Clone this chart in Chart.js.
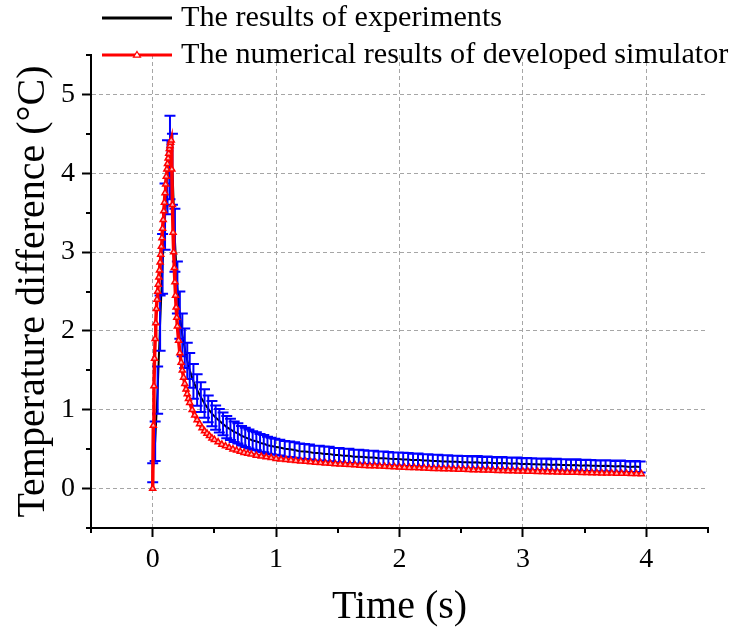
<!DOCTYPE html>
<html>
<head>
<meta charset="utf-8">
<script src="https://cdn.jsdelivr.net/npm/chart.js@4/dist/chart.umd.min.js"></script>
<style>
  html, body { margin: 0; padding: 0; background: #ffffff; }
  #wrap { width: 737px; height: 634px; }
</style>
</head>
<body>
<div id="wrap"><canvas id="c" width="737" height="634"></canvas></div>
<script>
// ---------------- DATA ----------------
const legendLabels = ["The results of experiments", "The numerical results of developed simulator"];
const xTitle = "Time (s)";
const yTitle = "Temperature difference (\u00B0C)";

// Experiments: time (s), temperature difference (°C), error half-width (°C)
const expT = [0,0.02,0.04,0.06,0.08,0.10,0.12,0.14,0.16,0.18,0.20,0.22,0.24,0.26,0.28,0.30,
  0.33,0.36,0.39,0.42,0.45,0.48,0.51,0.54,0.57,0.60,0.63,0.66,0.69,0.72,0.75,0.78,0.81,0.84,0.87,0.90,0.93,0.96,0.99,
  1.03,1.07,1.11,1.15,1.19,1.23,1.27,1.31,1.35,1.39,1.43,1.47,1.51,1.55,1.59,1.63,1.67,1.71,1.75,1.79,1.83,1.87,1.91,1.95,1.99,
  2.03,2.07,2.11,2.15,2.19,2.23,2.27,2.31,2.35,2.39,2.43,2.47,2.51,2.55,2.59,2.63,2.67,2.71,2.75,2.79,2.83,2.87,2.91,2.95,2.99,
  3.03,3.07,3.11,3.15,3.19,3.23,3.27,3.31,3.35,3.39,3.43,3.47,3.51,3.55,3.59,3.63,3.67,3.71,3.75,3.79,3.83,3.87,3.91,3.95];
const expY = [0.20,0.60,1.25,2.10,2.85,3.45,3.95,4.20,4.05,3.15,2.55,2.20,1.95,1.78,1.62,1.50,
  1.36,1.25,1.16,1.08,1.01,0.95,0.90,0.86,0.82,0.78,0.75,0.72,0.70,0.67,0.65,0.63,0.61,0.60,0.58,0.57,0.55,0.54,0.53,
  0.52,0.505,0.50,0.49,0.475,0.47,0.465,0.45,0.45,0.44,0.44,0.425,0.425,0.415,0.415,0.405,0.405,0.40,0.395,0.395,0.385,0.385,0.38,0.375,0.375,
  0.37,0.37,0.36,0.365,0.355,0.355,0.35,0.35,0.345,0.345,0.34,0.34,0.335,0.335,0.33,0.335,0.325,0.33,0.325,0.32,0.325,0.32,0.315,0.32,0.31,
  0.315,0.31,0.31,0.305,0.31,0.30,0.305,0.30,0.30,0.295,0.30,0.29,0.295,0.29,0.29,0.285,0.29,0.285,0.28,0.285,0.28,0.275,0.28,0.275];
const expE = [0.12,0.25,0.30,0.35,0.38,0.42,0.47,0.53,0.45,0.40,0.33,0.30,0.27,0.25,0.23,0.22,
  0.22,0.20,0.19,0.18,0.17,0.16,0.155,0.15,0.145,0.14,0.135,0.13,0.128,0.125,0.122,0.12,0.118,0.115,0.112,0.11,0.108,0.105,0.102,
  0.10,0.10,0.098,0.098,0.096,0.096,0.095,0.094,0.093,0.093,0.092,0.091,0.09,0.09,0.089,0.088,0.088,0.087,0.086,0.086,0.085,0.085,0.084,0.084,0.083,
  0.083,0.082,0.082,0.081,0.081,0.08,0.08,0.08,0.079,0.079,0.078,0.078,0.078,0.077,0.077,0.077,0.076,0.076,0.076,0.075,0.075,0.075,0.075,0.074,0.074,
  0.074,0.074,0.073,0.073,0.073,0.073,0.072,0.072,0.072,0.072,0.071,0.071,0.071,0.071,0.07,0.07,0.07,0.07,0.07,0.07,0.07,0.07,0.07,0.07];

// Simulator: time (s), temperature difference (°C)
const simT = [0,0.005,0.01,0.015,0.02,0.025,0.03,0.035,0.04,0.045,0.05,0.055,0.06,0.065,0.07,0.075,0.08,0.085,0.09,0.095,
  0.10,0.105,0.11,0.115,0.12,0.125,0.13,0.135,0.14,0.145,0.15,
  0.155,0.16,0.165,0.17,0.175,0.18,0.185,0.19,0.195,0.20,0.21,0.22,0.23,0.24,0.25,0.26,0.27,0.28,0.29,0.30,
  0.32,0.34,0.36,0.38,0.40,0.42,0.44,0.46,0.48,0.50,0.53,0.56,0.59,0.62,0.65,0.68,0.71,0.74,0.77,0.80,0.84,0.88,0.92,0.96,1.00,
  1.04,1.08,1.12,1.16,1.20,1.24,1.28,1.32,1.36,1.40,1.44,1.48,1.52,1.56,1.60,1.64,1.68,1.72,1.76,1.80,1.84,1.88,1.92,1.96,2.00,
  2.04,2.08,2.12,2.16,2.20,2.24,2.28,2.32,2.36,2.40,2.44,2.48,2.52,2.56,2.60,2.64,2.68,2.72,2.76,2.80,2.84,2.88,2.92,2.96,3.00,
  3.04,3.08,3.12,3.16,3.20,3.24,3.28,3.32,3.36,3.40,3.44,3.48,3.52,3.56,3.60,3.64,3.68,3.72,3.76,3.80,3.84,3.88,3.92,3.96];
const simY = [0,0.80,1.30,1.65,1.90,2.10,2.28,2.40,2.50,2.59,2.68,2.77,2.87,2.97,3.07,3.18,3.30,3.41,3.52,3.63,
  3.75,3.86,3.96,4.05,4.12,4.19,4.25,4.31,4.35,4.39,4.42,
  4.05,3.60,3.25,3.00,2.80,2.62,2.45,2.30,2.17,2.06,1.88,1.72,1.60,1.50,1.41,1.33,1.26,1.20,1.14,1.09,
  1.00,0.93,0.87,0.82,0.77,0.73,0.70,0.67,0.64,0.62,0.59,0.56,0.54,0.52,0.50,0.485,0.47,0.455,0.445,0.435,0.42,0.41,0.40,0.39,0.38,
  0.372,0.366,0.360,0.354,0.348,0.342,0.337,0.332,0.327,0.322,0.317,0.313,0.309,0.305,0.301,0.298,0.294,0.291,0.288,0.285,0.282,0.279,0.276,0.273,0.270,
  0.268,0.265,0.263,0.260,0.258,0.256,0.253,0.251,0.249,0.247,0.245,0.243,0.241,0.239,0.237,0.235,0.233,0.231,0.229,0.227,0.226,0.224,0.222,0.220,0.219,
  0.217,0.216,0.214,0.213,0.211,0.210,0.208,0.207,0.205,0.204,0.203,0.201,0.200,0.199,0.197,0.196,0.195,0.193,0.192,0.191,0.190,0.188,0.187,0.186];

// Axis ranges / ticks
const xMin = -0.5, xMax = 4.5, yMin = -0.5, yMax = 5.5, tickStep = 0.5;

// ---------------- CHART ----------------
const SERIF = "'Liberation Serif', 'Times New Roman', 'DejaVu Serif', serif";
const isMajor = v => Math.abs(v - Math.round(v)) < 1e-9;

const errorBars = {
  id: 'errorBars',
  afterDatasetDraw(chart, args) {
    if (args.index !== 0) return;
    const ctx = chart.ctx, xs = chart.scales.x, ys = chart.scales.y;
    ctx.save();
    ctx.strokeStyle = '#0000ff';
    ctx.lineWidth = 2;
    const cap = 5.5;
    ctx.beginPath();
    for (let i = 0; i < expT.length; i++) {
      const px = xs.getPixelForValue(expT[i]);
      const pt = ys.getPixelForValue(expY[i] + expE[i]);
      const pb = ys.getPixelForValue(expY[i] - expE[i]);
      ctx.moveTo(px, pt); ctx.lineTo(px, pb);
      ctx.moveTo(px - cap, pt); ctx.lineTo(px + cap, pt);
      ctx.moveTo(px - cap, pb); ctx.lineTo(px + cap, pb);
    }
    ctx.stroke();
    ctx.restore();
  }
};

const minorTicks = {
  id: 'minorTicks',
  afterDraw(chart) {
    const ctx = chart.ctx, xs = chart.scales.x, ys = chart.scales.y, a = chart.chartArea;
    ctx.save();
    ctx.strokeStyle = '#000'; ctx.lineWidth = 2;
    ctx.beginPath();
    xs.ticks.forEach(t => { if (!isMajor(t.value)) { const p = Math.round(xs.getPixelForValue(t.value)); ctx.moveTo(p, a.bottom); ctx.lineTo(p, a.bottom + 5); } });
    ys.ticks.forEach(t => { if (!isMajor(t.value)) { const p = Math.round(ys.getPixelForValue(t.value)); ctx.moveTo(a.left, p); ctx.lineTo(a.left - 5, p); } });
    ctx.stroke();
    ctx.restore();
  }
};

const customLegend = {
  id: 'customLegend',
  afterDraw(chart) {
    const ctx = chart.ctx;
    const rows = [18, 55];
    const x0 = 102, x1 = 172, tx = 181;
    ctx.save();
    chart.data.datasets.forEach((ds, i) => {
      const y = rows[i];
      ctx.strokeStyle = ds.borderColor; ctx.lineWidth = 3;
      ctx.beginPath(); ctx.moveTo(x0, y); ctx.lineTo(x1, y); ctx.stroke();
      if (ds.pointRadius > 0) {
        const cx = (x0 + x1) / 2, r = 3.5;
        ctx.fillStyle = '#ffffff'; ctx.lineWidth = 1.2;
        ctx.beginPath();
        ctx.moveTo(cx, y - r); ctx.lineTo(cx + r, y + r * 0.6); ctx.lineTo(cx - r, y + r * 0.6); ctx.closePath();
        ctx.fill(); ctx.stroke();
      }
      ctx.fillStyle = '#000';
      ctx.font = '30.2px ' + SERIF;
      ctx.textBaseline = 'middle';
      ctx.textAlign = 'left';
      ctx.fillText(ds.label, tx, y);
    });
    ctx.restore();
  }
};

const gridColor = c => (c.tick && isMajor(c.tick.value) && c.tick.value > (c.scale.min + 1e-9) && c.tick.value < (c.scale.max - 1e-9)) ? '#a6a6a6' : 'rgba(0,0,0,0)';
const tickColor = c => (c.tick && isMajor(c.tick.value)) ? '#000000' : 'rgba(0,0,0,0)';

new Chart(document.getElementById('c'), {
  type: 'line',
  data: {
    datasets: [
      {
        label: legendLabels[0],
        data: expT.map((t, i) => ({ x: t, y: expY[i] })),
        borderColor: '#000000',
        backgroundColor: '#000000',
        borderWidth: 2,
        pointRadius: 0,
        tension: 0,
        order: 1
      },
      {
        label: legendLabels[1],
        data: simT.map((t, i) => ({ x: t, y: simY[i] })),
        borderColor: '#ff0000',
        backgroundColor: '#ff0000',
        borderWidth: 3.5,
        pointStyle: 'triangle',
        pointRadius: 3.5,
        pointBorderWidth: 1.5,
        pointBorderColor: '#ff0000',
        pointBackgroundColor: '#ffb8b8',
        tension: 0,
        order: 0
      }
    ]
  },
  options: {
    responsive: false,
    animation: false,
    devicePixelRatio: 1,
    layout: { padding: { top: 55, right: 29, left: 0, bottom: 0 } },
    plugins: { legend: { display: false }, tooltip: { enabled: false } },
    scales: {
      x: {
        type: 'linear', min: xMin, max: xMax,
        afterFit: s => { s.height = 106; },
        ticks: {
          stepSize: tickStep, autoSkip: false, maxRotation: 0, padding: 6,
          color: '#000', font: { family: SERIF, size: 28 },
          callback: v => isMajor(v) && v >= 0 && v <= 4 ? String(Math.round(v)) : ''
        },
        grid: { color: gridColor, lineWidth: 1, drawTicks: true, tickLength: 9, tickColor: tickColor, tickWidth: 2 },
        border: { display: true, color: '#000', width: 2, dash: [4, 3] },
        title: { display: true, text: xTitle, color: '#000', font: { family: SERIF, size: 40 }, padding: { top: 0, bottom: 3 } }
      },
      y: {
        type: 'linear', min: yMin, max: yMax,
        afterFit: s => { s.width = 91; },
        ticks: {
          stepSize: tickStep, autoSkip: false, padding: 7,
          color: '#000', font: { family: SERIF, size: 28 },
          callback: v => isMajor(v) && v >= 0 && v <= 5 ? String(Math.round(v)) : ''
        },
        grid: { color: gridColor, lineWidth: 1, drawTicks: true, tickLength: 9, tickColor: tickColor, tickWidth: 2 },
        border: { display: true, color: '#000', width: 2, dash: [4, 3] },
        title: { display: true, text: yTitle, color: '#000', font: { family: SERIF, size: 40 }, padding: { top: 9, bottom: 0 } }
      }
    }
  },
  plugins: [errorBars, minorTicks, customLegend]
});
</script>
</body>
</html>
